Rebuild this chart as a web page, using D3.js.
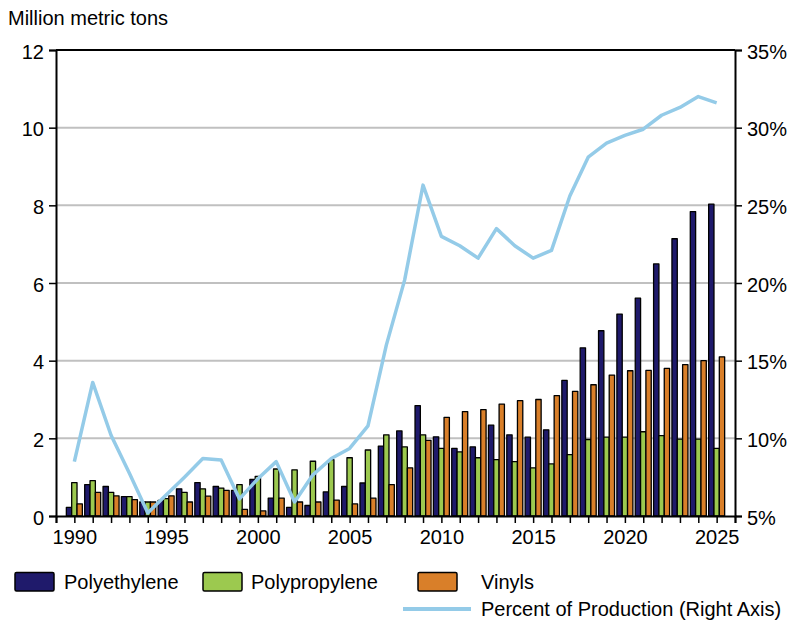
<!DOCTYPE html>
<html><head><meta charset="utf-8">
<script src="https://cdn.jsdelivr.net/npm/d3@7"></script>
<style>body{margin:0;background:#fff}svg text{font-family:"Liberation Sans",Arial,sans-serif;fill:#000}</style>
</head><body><svg id="c" width="804" height="621"></svg>
<script>
const years = d3.range(1990, 2026);
const polyethylene = [0.22,0.81,0.76,0.50,0.36,0.40,0.70,0.86,0.76,0.66,0.94,0.46,0.22,0.27,0.62,0.76,0.85,1.80,2.19,2.84,2.04,1.74,1.78,2.34,2.09,2.03,2.22,3.49,4.33,4.77,5.20,5.61,6.49,7.14,7.84,8.03];
const polypropylene = [0.86,0.91,0.61,0.50,0.36,0.45,0.61,0.70,0.72,0.81,1.02,1.21,1.19,1.41,1.45,1.50,1.70,2.09,1.78,2.09,1.74,1.65,1.50,1.45,1.40,1.24,1.34,1.58,1.97,2.03,2.03,2.17,2.07,1.98,1.98,1.74];
const vinyls = [0.31,0.61,0.52,0.42,0.36,0.52,0.36,0.51,0.66,0.17,0.13,0.46,0.36,0.36,0.41,0.31,0.46,0.81,1.24,1.95,2.54,2.69,2.74,2.88,2.97,3.00,3.10,3.21,3.38,3.63,3.74,3.75,3.80,3.90,4.00,4.10];
const percentOfProduction = [8.5,13.6,10.2,7.75,5.2,6.35,7.5,8.7,8.6,6.1,7.4,8.5,5.9,7.65,8.7,9.35,10.8,16.0,20.2,26.3,23.0,22.4,21.6,23.5,22.4,21.6,22.1,25.6,28.1,29.0,29.5,29.9,30.8,31.3,32.0,31.6];
const seriesNames = ["Polyethylene","Polypropylene","Vinyls"];
const seriesColors = ["#1f1a6b","#9cc94f","#d97f29"];
const lineName = "Percent of Production (Right Axis)";
const lineColor = "#94cbe8";
const leftTicks = [0,2,4,6,8,10,12];
const rightTicks = [5,10,15,20,25,30,35];
const xLabelYears = [1990,1995,2000,2005,2010,2015,2020,2025];

const svg = d3.select("#c");
const L = 56, R = 735, T = 50, B = 516;
const x = d3.scaleLinear().domain([1989, 2026]).range([L, R]);
const y = d3.scaleLinear().domain([0, 12]).range([B, T]);
const y2 = d3.scaleLinear().domain([5, 35]).range([B, T]);
const inner = d3.scaleBand().domain(seriesNames).range([-8, 8]);
const FS = 20;

svg.append("g").selectAll("line").data(leftTicks.filter(t => t > 0 && t < 12)).join("line")
  .attr("x1", L).attr("x2", R).attr("y1", d => y(d)).attr("y2", d => y(d))
  .attr("stroke", "#c0c0c0").attr("stroke-width", 2);

const data = [polyethylene, polypropylene, vinyls];
data.forEach((vals, si) => {
  svg.append("g").selectAll("rect").data(years.map((yr, i) => ({yr, v: vals[i]}))).join("rect")
    .attr("x", d => x(d.yr) + inner(seriesNames[si]))
    .attr("width", inner.bandwidth())
    .attr("y", d => y(d.v))
    .attr("height", d => y(0) - y(d.v))
    .attr("fill", seriesColors[si])
    .attr("stroke", "#000").attr("stroke-width", 1.3).attr("stroke-linejoin", "round");
});

const line = d3.line().x((d, i) => x(years[i])).y(d => y2(d));
svg.append("path").datum(percentOfProduction).attr("d", line)
  .attr("fill", "none").attr("stroke", lineColor).attr("stroke-width", 3.5).attr("stroke-linejoin", "round");

const axL = d3.axisLeft(y).tickValues(leftTicks).tickSize(7).tickPadding(5).tickFormat(d3.format("d"));
const gL = svg.append("g").attr("transform", `translate(${L},0)`).call(axL);
const axR = d3.axisRight(y2).tickValues(rightTicks).tickSize(7).tickPadding(5).tickFormat(d => d + "%");
const gR = svg.append("g").attr("transform", `translate(${R},0)`).call(axR);
const axB = d3.axisBottom(x).tickValues(d3.range(1989, 2027)).tickSize(7).tickPadding(5)
  .tickFormat(d => xLabelYears.includes(d) ? String(d) : "");
const gB = svg.append("g").attr("transform", `translate(0,${B})`).call(axB);
[gL, gR, gB].forEach(g => {
  g.select(".domain").attr("stroke", "#000").attr("stroke-width", 2);
  g.selectAll(".tick line").attr("stroke", "#000").attr("stroke-width", 1.5);
  g.selectAll("text").attr("font-size", FS).attr("font-family", "Liberation Sans, Arial, sans-serif").attr("fill", "#000");
});
gL.selectAll("text").attr("dy", "0.4em");
gR.selectAll("text").attr("dy", "0.4em");
gB.selectAll("text").attr("dy", "0.82em");
svg.append("line").attr("x1", L).attr("x2", R).attr("y1", T).attr("y2", T).attr("stroke", "#000").attr("stroke-width", 2);

svg.append("text").attr("x", 8).attr("y", 25).attr("font-size", FS).text("Million metric tons");

const legX = [15, 203, 418], legTX = [64, 251, 481];
seriesNames.forEach((n, i) => {
  svg.append("rect").attr("x", legX[i]).attr("y", 572.5).attr("width", 39).attr("height", 18.5)
    .attr("fill", seriesColors[i]).attr("stroke", "#000").attr("stroke-width", 1.5).attr("rx", 1.5);
  svg.append("text").attr("x", legTX[i]).attr("y", 589).attr("font-size", FS).text(n);
});
svg.append("line").attr("x1", 403).attr("x2", 471).attr("y1", 609).attr("y2", 609)
  .attr("stroke", lineColor).attr("stroke-width", 4);
svg.append("text").attr("x", 481).attr("y", 616).attr("font-size", FS).text(lineName);
</script></body></html>
